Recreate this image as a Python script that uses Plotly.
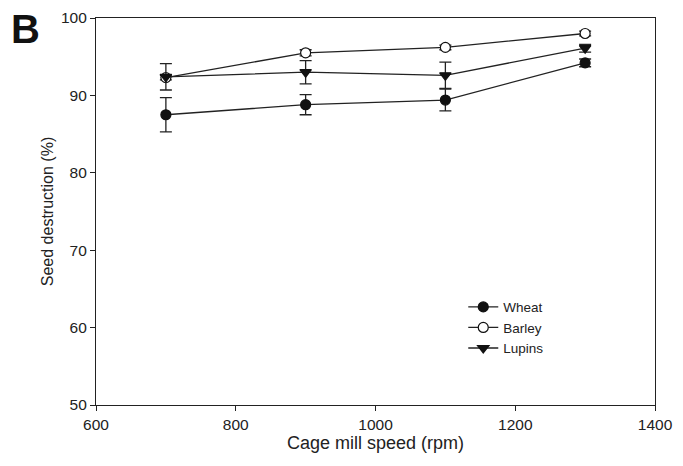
import plotly.graph_objects as go

speed = [700, 900, 1100, 1300]
wheat = [87.5, 88.8, 89.4, 94.2]
wheat_err = [2.2, 1.3, 1.4, 0.5]
barley = [92.3, 95.5, 96.2, 98.0]
barley_err = [0.3, 0.4, 0.3, 0.3]
lupins = [92.4, 93.0, 92.6, 96.1]
lupins_err = [1.7, 1.5, 1.7, 0.5]

fig = go.Figure()

def add(name, y, err, symbol, fill):
    line = dict(color="#222222", width=1.3)
    marker = dict(symbol=symbol, size=10, color=fill,
                  line=dict(color="#111111", width=1.2))
    fig.add_trace(go.Scatter(
        x=speed, y=y, name=name, mode="lines+markers",
        line=line, marker=marker, showlegend=False,
        error_y=dict(type="data", array=err, visible=True,
                     color="#222222", thickness=1.3, width=6),
    ))
    fig.add_trace(go.Scatter(
        x=[None], y=[None], name=name, mode="lines+markers",
        line=line, marker=marker, showlegend=True,
    ))

add("Wheat", wheat, wheat_err, "circle", "#111111")
add("Barley", barley, barley_err, "circle", "white")
add("Lupins", lupins, lupins_err, "triangle-down", "#111111")

axis_common = dict(showline=True, linecolor="#222222", linewidth=1.2,
                   mirror=True, ticks="outside", ticklen=5, tickcolor="#222222",
                   showgrid=False, zeroline=False, automargin=False,
                   tickfont=dict(size=15.5, color="#222222"))

fig.update_layout(
    width=683, height=466,
    margin=dict(l=88, r=36, t=10, b=69, autoexpand=False),
    paper_bgcolor="white", plot_bgcolor="white",
    font=dict(family="Liberation Sans, Arial, sans-serif", color="#222222"),
    xaxis=dict(range=[600, 1400], tickvals=[600, 800, 1000, 1200, 1400],
               title=dict(text="Cage mill speed (rpm)", font=dict(size=18), standoff=1),
               **axis_common),
    yaxis=dict(range=[50, 100], tickvals=[50, 60, 70, 80, 90, 100],
               title=dict(text="Seed destruction (%)", font=dict(size=16), standoff=3),
               **axis_common),
    legend=dict(x=0.657, y=0.293, xanchor="left", yanchor="top",
                bgcolor="rgba(0,0,0,0)", font=dict(size=13.5),
                tracegroupgap=0),
    showlegend=True,
)

fig.add_annotation(text="<b>B</b>", xref="paper", yref="paper",
                   x=-0.156, y=1.033, xanchor="left", yanchor="top",
                   showarrow=False, font=dict(size=40, color="#111111"))

fig.write_html("out.html")
